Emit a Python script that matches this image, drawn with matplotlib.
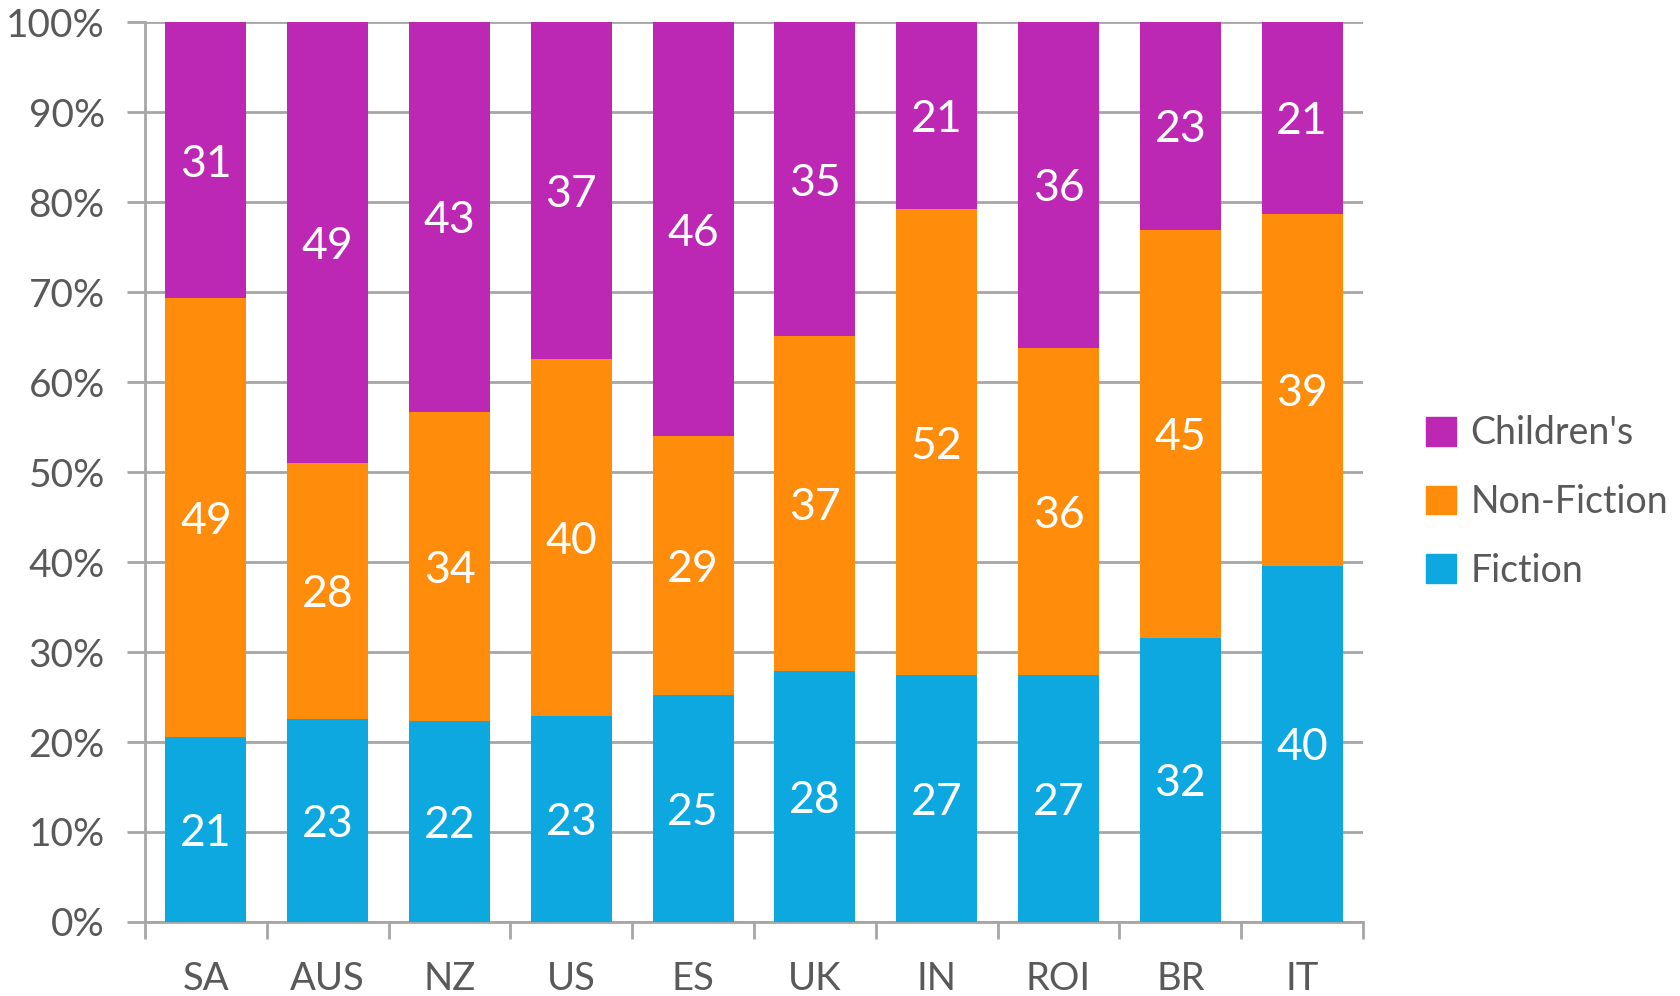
import numpy as np
import matplotlib
matplotlib.use("Agg")
import matplotlib.pyplot as plt
from matplotlib.patches import Patch

# shares in percent
countries = ["SA", "AUS", "NZ", "US", "ES", "UK", "IN", "ROI", "BR", "IT"]
fiction = [20.6, 22.6, 22.3, 22.9, 25.2, 27.9, 27.4, 27.4, 31.6, 39.6]
non_fiction = [48.7, 28.4, 34.4, 39.7, 28.8, 37.2, 51.8, 36.4, 45.3, 39.1]
childrens = [30.7, 49.0, 43.3, 37.4, 46.0, 34.9, 20.8, 36.2, 23.1, 21.3]

series = [("Fiction", fiction, "#0EA8E0"),
          ("Non-Fiction", non_fiction, "#FF8C0A"),
          ("Children's", childrens, "#BC27B4")]

plt.rcParams['font.family'] = ['Lato', 'DejaVu Sans']
grey = "#595959"
line_grey = "#A6A6A6"

fig = plt.figure(figsize=(16.81, 9.96), dpi=100)
ax = fig.add_axes([0.0863, 0.0743, 0.7245, 0.9036])

x = np.arange(len(countries))
totals = np.sum([s[1] for s in series], axis=0)
bottom = np.zeros(len(countries))
for name, vals, color in series:
    share = np.array(vals) / totals * 100
    ax.bar(x, share, width=0.665, bottom=bottom, color=color, zorder=3)
    for xi, b, h, v in zip(x, bottom, share, vals):
        ax.text(xi, b + h / 2, f"{v:.0f}", ha="center", va="center_baseline",
                color="white", fontsize=32, zorder=4)
    bottom += share

ax.set_xlim(-0.5, len(countries) - 0.5)
ax.set_ylim(0, 100)
ax.set_yticks(np.arange(0, 101, 10))
ax.set_yticklabels([f"{t}%" for t in range(0, 101, 10)])
ax.yaxis.grid(True, color=line_grey, linewidth=2, zorder=0)

ax.set_xticks(x)
ax.set_xticklabels(countries)
ax.set_xticks(np.arange(-0.5, len(countries)), minor=True)
ax.tick_params(axis="x", which="major", length=0, pad=28, labelsize=27.5, labelcolor=grey)
ax.tick_params(axis="x", which="minor", length=12, width=2, color=line_grey)
ax.tick_params(axis="y", length=13, width=2, color=line_grey, labelsize=28,
               labelcolor=grey, pad=16)

for side in ["top", "right"]:
    ax.spines[side].set_visible(False)
for side in ["left", "bottom"]:
    ax.spines[side].set_color(line_grey)
    ax.spines[side].set_linewidth(2)

handles = [Patch(color=c, label=n) for n, _, c in reversed(series)]
fig.legend(handles=handles, loc="center left", bbox_to_anchor=(0.837, 0.496),
           frameon=False, fontsize=27, labelcolor=grey, handlelength=0.8,
           handleheight=0.8, handletextpad=0.4, labelspacing=0.87, borderpad=0)

fig.savefig("out.png", dpi=100)
